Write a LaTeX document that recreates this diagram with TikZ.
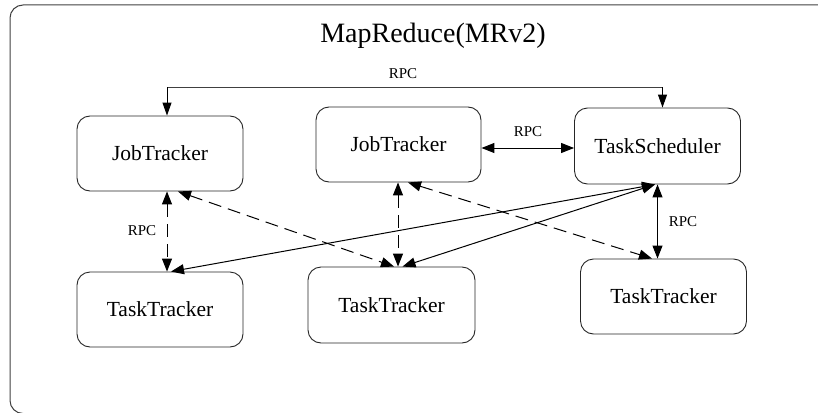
\documentclass[tikz,border=0pt]{standalone}
\usepackage{fontspec}
\setmainfont{Liberation Serif}
\usetikzlibrary{arrows.meta}

\tikzset{
  box/.style={draw=black!85, line width=0.9pt, rounded corners=13pt,
              minimum width=166pt, minimum height=75pt, inner sep=0pt,
              font=\fontsize{21.5}{24}\selectfont},
  link/.style={line width=1pt, {Triangle[length=13pt,width=10pt]}-{Triangle[length=13pt,width=10pt]}},
  downlink/.style={line width=1pt, -{Triangle[length=13pt,width=9pt]}},
  dashlink/.style={link, dash pattern=on 13pt off 7pt},
  lbl/.style={font=\fontsize{15}{17}\selectfont, inner sep=0pt},
}

\begin{document}
\begin{tikzpicture}[x=1pt, y=-1pt]
  \useasboundingbox (0,0) rectangle (818,412);
  % outer frame, running off the right and bottom edges
  \begin{scope}
    \clip (0,0) rectangle (818,412);
    \draw[black!75, line width=1pt, rounded corners=13pt] (10,5) rectangle (840,413.5);
  \end{scope}

  \node[font=\fontsize{28}{31}\selectfont] (title) at (433,36) {MapReduce(MRv2)};

  % components
  \node[box] (jt1) at (160,153.5) {JobTracker};
  \node[box, minimum width=165pt] (jt2) at (398.5,144.5) {JobTracker};
  \node[box, minimum height=76pt] (ts) at (657.5,146) {TaskScheduler};
  \node[box] (tt1) at (160,309.5) {TaskTracker};
  \node[box, minimum width=167pt, minimum height=76pt] (tt2) at (391.5,305) {TaskTracker};
  \node[box] (tt3) at (663.5,296.5) {TaskTracker};

  % connector end points on the box borders
  \coordinate (jt1top) at ([xshift=7pt]jt1.north);
  \coordinate (tstop)  at ([xshift=5pt]ts.north);
  \coordinate (bus)    at (0,87);
  \coordinate (jt2r)   at ([yshift=-3.5pt]jt2.east);
  \coordinate (tsl)    at ([yshift=-1.5pt]ts.west);
  \coordinate (jt1a)   at ([xshift=7pt]jt1.south);
  \coordinate (jt1b)   at ([xshift=18pt]jt1.south);
  \coordinate (jt2a)   at ([xshift=-0.5pt]jt2.south);
  \coordinate (jt2b)   at ([xshift=9.5pt]jt2.south);
  \coordinate (tsb)    at ([xshift=-2.5pt]ts.south);
  \coordinate (tsv)    at (ts.south);
  \coordinate (tt1a)   at ([xshift=7pt]tt1.north);
  \coordinate (tt1b)   at ([xshift=11pt]tt1.north);
  \coordinate (tt2a)   at ([xshift=2.5pt]tt2.north);
  \coordinate (tt2b)   at ([xshift=6.5pt]tt2.north);
  \coordinate (tt2c)   at ([xshift=11pt]tt2.north);
  \coordinate (tt3a)   at ([xshift=-11.5pt]tt3.north);
  \coordinate (tt3b)   at ([xshift=-6pt]tt3.north);

  % RPC bus between the first JobTracker and the TaskScheduler
  \draw[black!75, line width=1pt] (jt1top |- bus) -- (tstop |- bus);
  \draw[downlink] (jt1top |- bus) -- (jt1top);
  \draw[downlink] (tstop |- bus) -- (tstop);
  \node[lbl] (rpctop) at (403,74) {RPC};

  % JobTracker <-> TaskScheduler
  \draw[link] (jt2r) -- (jt2r -| tsl);
  \node[lbl] (rpcmid) at (528,132) {RPC};

  % JobTracker <-> TaskTracker (dashed)
  \draw[dashlink] (jt1a) -- (tt1a);
  \node[lbl] (rpcleft) at (142,231) {RPC};
  \draw[dashlink] (jt1b) -- (tt2a);
  \draw[dashlink] (jt2a) -- (jt2a |- tt2b);
  \draw[dashlink] (jt2b) -- (tt3a);

  % TaskScheduler <-> TaskTracker
  \draw[link] (tsb) -- (tt1b);
  \draw[link] (tsb) -- (tt2c);
  \draw[link] (tsv) -- (tsv |- tt3b);
  \node[lbl] (rpcright) at (683,222) {RPC};
\end{tikzpicture}
\end{document}
